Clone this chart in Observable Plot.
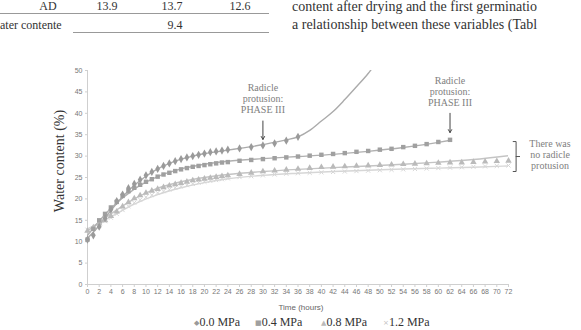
<!DOCTYPE html>
<html><head><meta charset="utf-8">
<script src="https://cdn.jsdelivr.net/npm/d3@7"></script>
<script src="https://cdn.jsdelivr.net/npm/@observablehq/plot@0.6"></script>
<style>
html,body{margin:0;padding:0;background:#fff;width:581px;height:330px;overflow:hidden;position:relative;}
.t{position:absolute;font-family:"Liberation Serif","Times New Roman",serif;color:#333;white-space:nowrap;line-height:14px;}
.hl{position:absolute;height:0;border-top:1px solid #999;}
#chart{position:absolute;left:0;top:0;}
</style></head><body>
<div class="t" style="left:48px;top:-1px;font-size:12px;transform:translateX(-50%)">AD</div>
<div class="t" style="left:107px;top:-1px;font-size:12px;transform:translateX(-50%)">13.9</div>
<div class="t" style="left:172px;top:-1px;font-size:12px;transform:translateX(-50%)">13.7</div>
<div class="t" style="left:240px;top:-1px;font-size:12px;transform:translateX(-50%)">12.6</div>
<div class="hl" style="left:0;top:13px;width:269px"></div>
<div class="t" style="left:0;top:18px;font-size:12px">ater contente</div>
<div class="t" style="left:175px;top:18px;font-size:12px;transform:translateX(-50%)">9.4</div>
<div class="hl" style="left:73px;top:32px;width:196px"></div>
<div class="t" style="left:292px;top:0px;font-size:14px">content after drying and the first germinatio</div>
<div class="t" style="left:292px;top:18px;font-size:14px">a relationship between these variables (Tabl</div>
<div id="chart"></div>
<div class="t" style="left:60px;top:161px;font-size:14px;transform:translate(-50%,-50%) rotate(-90deg)">Water content (%)</div>
<div class="t" style="left:301px;top:301px;font-size:8px;color:#666;font-family:'Liberation Sans',Arial,sans-serif;transform:translateX(-50%)">Time (hours)</div>
<div id="legend"></div>
<script>
// ---- data ----
const seriesNames = ["0.0 MPa", "0.4 MPa", "0.8 MPa", "1.2 MPa"];
const markerHours = [0,1,2,3,4,5,6,7,8,9,10,11,12,13,14,15,16,17,18,19,20,21,22,23,24,
  26,28,30,32,34,36,38,40,42,44,46,48,50,52,54,56,58,60,62,64,66,68,70,72];
const p00 = [10.5,11.5,13.5,15.5,17.5,19.5,21,22.5,23.5,24.5,25.5,26.3,27,27.7,28.3,28.8,29.3,29.7,30,30.3,30.6,30.9,31.1,31.3,31.5,
  31.8,32.1,32.5,33,33.6,34.5];
const p04 = [10.5,13,15,16.5,18,19.3,20.7,21.8,22.6,23.3,24,24.6,25.2,25.7,26.1,26.5,26.9,27.2,27.5,27.7,27.9,28.1,28.3,28.5,28.6,
  28.9,29.1,29.3,29.5,29.7,29.9,30.1,30.3,30.5,30.7,31,31.2,31.5,31.7,32.1,32.4,32.8,33.3,33.8];
const p08 = [12.5,13.3,14.2,15,16,17,18.2,19.2,20.1,20.8,21.4,21.9,22.3,22.7,23.1,23.4,23.7,24,24.3,24.5,24.7,24.9,25.1,25.3,25.5,
  25.8,26.1,26.4,26.6,26.8,27,27.2,27.4,27.5,27.6,27.7,27.8,27.9,28,28.1,28.2,28.3,28.4,28.5,28.5,28.6,28.7,28.8,28.9];
const p12 = [12.8,13.2,14,14.8,15.6,16.5,17.4,18.3,19.1,19.8,20.4,20.9,21.4,21.8,22.2,22.6,22.9,23.2,23.5,23.8,24,24.2,24.4,24.6,24.8,
  25.1,25.3,25.5,25.7,25.9,26,26.1,26.2,26.3,26.4,26.5,26.6,26.7,26.8,26.9,27,27.1,27.2,27.3,27.4,27.5,27.6,27.7,27.8];

// trend lines
const t00Hours = [0,2,4,6,8,10,12,14,16,18,20,22,24,26,28,30,32,34,36,38,40,42,44,46,48,50];
const t00 = [10.8,13.8,17.3,20.5,23.2,25.3,27,28.3,29.3,30,30.6,31,31.4,31.8,32.2,32.7,33.2,33.8,34.5,36,38.2,40.4,43.2,46.2,49.3,53];
const t04Hours = [0,4,8,12,16,20,24,30,36,42,48,54,60,62];
const t04 = [11.5,17.8,22.3,25.2,27,28.1,28.8,29.4,29.9,30.4,31.1,32,33.2,33.7];
const tHours = [0,4,8,12,16,20,24,30,36,42,48,54,60,66,72];
const t08 = [12.5,16.5,20,22.5,24,25,25.7,26.4,26.9,27.3,27.7,28.1,28.6,29.2,30.1];
const t12 = [13,15.8,18.8,21,22.6,23.8,24.7,25.5,26,26.4,26.7,27,27.2,27.4,27.7];

const xTicks = d3.range(0, 73, 2);
const yTicks = [0,5,10,15,20,25,30,35,40,45,50];

// annotations
const annoHour = [30, 62];
const annoTextY = [43.5, 45.1];
const annoArrowFrom = [38.2, 40.0];
const annoArrowTo = [33.9, 35.5];
const annoLabel = "Radicle\nprotusion:\nPHASE III";
const noteLabel = "There was\nno radicle\nprotusion";
const bracketX = [72.8, 73.3, 73.9];
const bracketY = [33.4, 29.9, 26.4];
const noteX = 79.1, noteY = 30.4;

// ---- build ----
const styleOf = {
  "0.0 MPa": {symbol: "diamond", fill: "#9a9a9a", r: 2.5, line: "#ababab"},
  "0.4 MPa": {symbol: "square", fill: "#a0a0a0", r: 2.5, line: "#b0b0b0"},
  "0.8 MPa": {symbol: "triangle", fill: "#bababa", r: 2.4, line: "#c4c4c4"},
  "1.2 MPa": {symbol: "times", fill: "#d6d6d6", r: 2.0, line: "#d6d6d6"}
};
const pts = [p00, p04, p08, p12];
const markerRows = seriesNames.map((s, i) => pts[i].map((v, j) => ({series: s, hour: markerHours[j], value: v})));
const trendRows = [
  t00.map((v, j) => ({hour: t00Hours[j], value: v})),
  t04.map((v, j) => ({hour: t04Hours[j], value: v})),
  t08.map((v, j) => ({hour: tHours[j], value: v})),
  t12.map((v, j) => ({hour: tHours[j], value: v}))
];
const annos = annoHour.map((h, i) => ({hour: h, ty: annoTextY[i], y1: annoArrowFrom[i], y2: annoArrowTo[i]}));

const marks = [
  Plot.ruleX([0], {y1: 0, y2: 50, stroke: "#cfcfcf"}),
  Plot.ruleY([0], {x1: 0, x2: 72, stroke: "#cfcfcf"}),
  Plot.axisY({ticks: yTicks, tickSize: 2, tickPadding: 3, label: null, stroke: "#cfcfcf", fill: "#777"}),
  Plot.axisX({ticks: xTicks, tickSize: 3, tickPadding: 2, label: null, stroke: "#cfcfcf", fill: "#777"})
];
[3,2,1,0].forEach(i => {
  const st = styleOf[seriesNames[i]];
  marks.push(Plot.line(trendRows[i], {x: "hour", y: "value", stroke: st.line, strokeWidth: 1.4, curve: "monotone-x", clip: true}));
});
[3,2,1,0].forEach(i => {
  const st = styleOf[seriesNames[i]];
  if (st.symbol === "times") {
    marks.push(Plot.dot(markerRows[i], {x: "hour", y: "value", symbol: "times", r: st.r, stroke: st.fill, strokeWidth: 1}));
  } else {
    marks.push(Plot.dot(markerRows[i], {x: "hour", y: "value", symbol: st.symbol, r: st.r, fill: st.fill, stroke: "none"}));
  }
});
marks.push(
  Plot.text(annos, {x: "hour", y: "ty", text: () => annoLabel, fontFamily: "'Liberation Serif', serif", fontSize: 10, lineHeight: 1.08, fill: "#808080"}),
  Plot.arrow(annos, {x1: "hour", x2: "hour", y1: "y1", y2: "y2", stroke: "#444", strokeWidth: 1, headLength: 5}),
  Plot.line([[bracketX[0], bracketY[0]], [bracketX[1], bracketY[0]], [bracketX[1], bracketY[2]], [bracketX[0], bracketY[2]]], {stroke: "#555", strokeWidth: 1}),
  Plot.line([[bracketX[1], bracketY[1]], [bracketX[2], bracketY[1]]], {stroke: "#555", strokeWidth: 1}),
  Plot.text([0], {x: noteX, y: noteY, text: () => noteLabel, fontFamily: "'Liberation Serif', serif", fontSize: 10, lineHeight: 1.08, fill: "#808080"})
);

const chart = Plot.plot({
  width: 581, height: 316,
  marginTop: 70, marginBottom: 32, marginLeft: 87, marginRight: 73,
  style: {fontFamily: "'Liberation Sans', Arial, sans-serif", fontSize: "7px", background: "transparent", overflow: "visible"},
  x: {domain: [0, 72]},
  y: {domain: [0, 50]},
  marks
});
document.getElementById("chart").appendChild(chart);

// legend
const legendX = [194, 255, 321, 383];
const legendSym = ["◆", "■", "▲", "×"];
const legendCol = ["#9a9a9a", "#a0a0a0", "#bababa", "#c0c0c0"];
const lg = document.getElementById("legend");
seriesNames.forEach((s, i) => {
  const d = document.createElement("div");
  d.className = "t";
  d.style.left = legendX[i] + "px";
  d.style.top = "315px";
  d.style.fontSize = "12px";
  d.innerHTML = `<span style="color:${legendCol[i]};font-size:7px;font-family:'DejaVu Sans',sans-serif;vertical-align:middle">${legendSym[i]}</span>${s}`;
  lg.appendChild(d);
});
</script>
</body></html>
